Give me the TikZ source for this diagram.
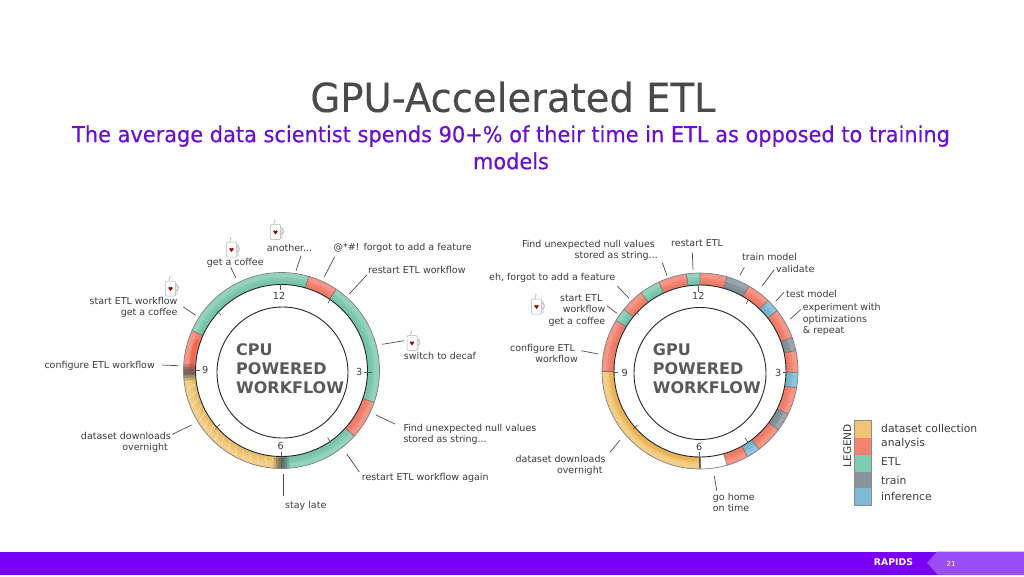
\documentclass[tikz,border=0pt]{standalone}
\usepackage{fontspec}
\setmainfont{DejaVu Sans}
\newfontfamily\titlefont[FakeStretch=0.964,FakeBold=0.25]{DejaVu Sans}
\newfontfamily\subfont[FakeStretch=0.95,FakeBold=0.25]{DejaVu Sans}
\usetikzlibrary{calc}
\definecolor{barp}{HTML}{7A00F5}
\definecolor{barl}{HTML}{9A4DF5}
\definecolor{subp}{HTML}{6A0FCF}
\definecolor{titleg}{HTML}{4A4A4A}
\definecolor{lblg}{HTML}{3C3C3C}
\definecolor{ctrg}{HTML}{5A5A5A}
\definecolor{cgreen}{HTML}{7FCBB2}
\definecolor{cred}{HTML}{F5836F}
\definecolor{cyel}{HTML}{F0C673}
\definecolor{cgrey}{HTML}{87949B}
\definecolor{cblue}{HTML}{7DBAD3}
\tikzset{
  x=1pt,y=-1pt,
  lbl/.style={inner sep=0pt,text=lblg,font=\fontsize{9.5}{11.2}\selectfont},
  num/.style={inner sep=0pt,text=lblg,font=\fontsize{9.7}{11}\selectfont},
  ctr/.style={inner sep=0pt,anchor=west,text=ctrg,align=left,font=\fontsize{16}{18.7}\selectfont\bfseries},
  leg/.style={inner sep=0pt,anchor=west,text=lblg,font=\fontsize{10.8}{12}\selectfont},
  leaderline/.style={draw=black!70,line width=.7pt},
  tickline/.style={draw=black!65,line width=.7pt},
  hoop/.style={draw=black!85,line width=.9pt},
  swatch/.style={draw=none,inner sep=0pt,minimum width=17.5pt,minimum height=16.9pt},
  mugpic/.pic={
    \fill[black!10] (4,-5) rectangle (7,7);
    \draw[black!25,line width=.8pt] (-1,-7) .. controls (-3,-9) and (1,-10) .. (-1,-12);
    \draw[black!30,line width=.5pt,fill=white,rounded corners=1pt] (-5,-7) rectangle (5,8);
    \draw[black!25,line width=.9pt] (5,-3) .. controls (9,-3) and (9,3) .. (5,3);
    \fill[red!60!black] (0,3) -- (-2.2,0) .. controls (-2.2,-1.6) and (-.4,-1.6) .. (0,-.4) .. controls (.4,-1.6) and (2.2,-1.6) .. (2.2,0) -- cycle;
  }
}
\newcommand\seg[3]{\fill[#3] (#1:98pt) arc[start angle=#1,end angle=#2,radius=98pt] -- (#2:86pt) arc[start angle=#2,end angle=#1,radius=86pt] -- cycle;
  \fill[white,opacity=.16] (#1:98pt) arc[start angle=#1,end angle=#2,radius=98pt] -- (#2:93pt) arc[start angle=#2,end angle=#1,radius=93pt] -- cycle;
  \fill[black,opacity=.04] (#1:90pt) arc[start angle=#1,end angle=#2,radius=90pt] -- (#2:86pt) arc[start angle=#2,end angle=#1,radius=86pt] -- cycle;
  \draw[black!55,line width=.5pt] (#1:98pt) -- (#1:86pt) (#2:98pt) -- (#2:86pt);}
\newcommand\smudge[2]{\foreach \w/\o in {5/.25,3.5/.3,2/.35}{
  \fill[black!70,opacity=\o] ({#1-\w}:98pt) arc[start angle={#1-\w},end angle={#1+\w},radius=98pt] -- ({#1+\w}:#2pt) arc[start angle={#1+\w},end angle={#1-\w},radius=#2pt] -- cycle;}}
\newcommand\leader[5]{\coordinate (#1-a) at (#2,#3); \coordinate (#1-b) at (#4,#5); \draw[leaderline] (#1-a) -- (#1-b);}
\newcommand\tickm[5]{\coordinate (#1-a) at (#2,#3); \coordinate (#1-b) at (#4,#5); \draw[tickline] (#1-a) -- (#1-b);}
\begin{document}
\begin{tikzpicture}
\useasboundingbox (0,0) rectangle (1024,576);
\fill[white] (0,0) rectangle (1024,576);
% title
\node[inner sep=0pt,text=titleg,font=\fontsize{40}{44}\selectfont\titlefont] (title) at (513,97) {GPU-Accelerated ETL};
\node[inner sep=0pt,text=subp,align=center,font=\fontsize{22}{27}\selectfont\subfont] (subtitle) at (511,147.5) {The average data scientist spends 90+\% of their time in ETL as opposed to training\\models};
% bottom bar
\fill[barp] (0,551.5) rectangle (1024,575);
\fill[barl] (937,551.5) -- (927,563) -- (938,575) -- (1024,575) -- (1024,551.5) -- cycle;
\node[inner sep=0pt,text=white,font=\fontsize{9.3}{10}\selectfont\bfseries] (rapids) at (893.5,562.5) {RAPIDS};
\node[inner sep=0pt,text=white,font=\fontsize{7}{8}\selectfont] (pageno) at (951,563.5) {21};
% left ring
\begin{scope}[shift={(281.5,370.5)}]
\seg{-19}{56}{cgreen}
\seg{56}{74}{cred}
\seg{74}{156}{cgreen}
\seg{156}{182}{cred}
\seg{182}{270}{cyel}
\seg{270}{318}{cgreen}
\seg{318}{341}{cred}
\foreach \a in {189,194,...,264}{\draw[white,opacity=.55,line width=.6pt] (\a:88pt) -- ({\a+2.5}:96pt);}
\fill[red!80!orange,opacity=.25] (160:88pt) arc[start angle=160,end angle=180,radius=88pt] -- (180:92pt) arc[start angle=180,end angle=160,radius=92pt] -- cycle;
\smudge{181}{87}
\smudge{270}{87}
\draw[black!50,line width=.7pt] (0,0) circle[radius=98pt];
\draw[hoop] (0,0) circle[radius=86pt];
\end{scope}
\draw[hoop] (282.5,372.5) circle[radius=65.5pt];
% right ring
\begin{scope}[shift={(700,371)}]
\seg{90}{98}{cgreen}
\seg{74}{90}{cred}
\seg{60}{74}{cgrey}
\seg{46}{60}{cred}
\seg{38}{46}{cblue}
\seg{20}{38}{cred}
\seg{12}{20}{cgrey}
\seg{-1}{12}{cred}
\seg{-10}{-1}{cblue}
\seg{-26}{-10}{cred}
\seg{-37}{-26}{cgrey}
\seg{-53}{-37}{cred}
\seg{-61}{-53}{cblue}
\seg{-74}{-61}{cred}
\seg{98}{115}{cred}
\seg{115}{127}{cgreen}
\seg{127}{141}{cred}
\seg{141}{149}{cgreen}
\seg{149}{180}{cred}
\seg{180}{270}{cyel}
\fill[orange,opacity=.18] (180:86pt) arc[start angle=180,end angle=270,radius=86pt] -- (270:91pt) arc[start angle=270,end angle=180,radius=91pt] -- cycle;
\draw[black!50,line width=.7pt] (0,0) circle[radius=98pt];
\draw[hoop] (0,0) circle[radius=86pt];
\end{scope}
\draw[hoop] (700,373.5) circle[radius=66pt];
% ring ticks
\tickm{lt12}{280}{284}{280}{290}
\tickm{lt3}{364}{372}{372}{372}
\tickm{lt9}{194}{370}{200}{370}
\tickm{lt6}{281}{451.7}{281}{468}
\tickm{lta}{217.3}{311.3}{221}{315}
\tickm{ltb}{330}{299.3}{328}{303.3}
\tickm{ltc}{327.7}{437.7}{330.7}{442.3}
\tickm{ltd}{220}{424.3}{215.7}{428.3}
\tickm{rt12}{698.3}{285}{698.3}{292}
\tickm{rt3}{782.7}{372}{787}{372}
\tickm{rt9}{612.7}{372}{618}{372}
\tickm{rt6}{699.3}{451.7}{699.3}{468}
\tickm{rta}{748}{300}{746}{304}
\tickm{rtb}{635.7}{311.7}{639}{315}
\tickm{rtc}{637.3}{425}{633.3}{429}
\tickm{rtd}{745}{437.7}{748.3}{442.7}
% clock numbers
\node[num] (l12) at (279,295.5) {12};
\node[num] (l3) at (359.3,372.3) {3};
\node[num] (l9) at (205.3,369.5) {9};
\node[num] (l6) at (280.7,446) {6};
\node[num] (r12) at (698.3,296) {12};
\node[num] (r3) at (778.3,372.7) {3};
\node[num] (r9) at (624.7,372.7) {9};
\node[num] (r6) at (699.3,446.7) {6};
% centre labels
\node[ctr] (cpu) at (236,368.7) {CPU\\POWERED\\WORKFLOW};
\node[ctr] (gpu) at (652.7,368.7) {GPU\\POWERED\\WORKFLOW};
% left labels
\node[lbl,anchor=west] (a1) at (206.7,262.7) {get a coffee};
\node[lbl,anchor=west] (a2) at (266.7,248) {another...};
\node[lbl,anchor=west] (a3) at (333.3,248) {@*\#! forgot to add a feature};
\node[lbl,anchor=west] (a4) at (368,269.7) {restart ETL workflow};
\node[lbl,anchor=east,align=right] (a5) at (177.7,307.6) {start ETL workflow\\get a coffee};
\node[lbl,anchor=west] (a6) at (44.3,366) {configure ETL workflow};
\node[lbl,anchor=west] (a7) at (403.7,356) {switch to decaf};
\node[lbl,anchor=west,align=left] (a8) at (403.3,434.3) {Find unexpected null values\\stored as string...};
\node[lbl,anchor=west] (a9) at (361.7,478.3) {restart ETL workflow again};
\node[lbl,anchor=east,align=right] (a10) at (171,442.3) {dataset downloads\\overnight\hspace*{3pt}};
\node[lbl,anchor=west] (a11) at (285,505.7) {stay late};
% right labels
\node[lbl,anchor=east,align=right] (b1) at (658,250) {Find unexpected null values\hspace*{3pt}\\stored as string...};
\node[lbl,anchor=west] (b2) at (489,278.3) {eh, forgot to add a feature};
\node[lbl,anchor=east,align=right] (b3) at (605.5,310.5) {start ETL\hspace*{3pt}\\workflow\\get a coffee};
\node[lbl,anchor=east,align=right] (b4) at (578,353.2) {configure ETL\hspace*{3pt}\\workflow};
\node[lbl,anchor=west] (b5) at (671,242.7) {restart ETL};
\node[lbl,anchor=west] (b6) at (742,256.7) {train model};
\node[lbl,anchor=west] (b7) at (776,269.3) {validate};
\node[lbl,anchor=west] (b8) at (786,294.3) {test model};
\node[lbl,anchor=west,align=left] (b9) at (802.7,319.5) {experiment with\\optimizations\\\& repeat};
\node[lbl,anchor=east,align=right] (b10) at (605.7,465.5) {dataset downloads\\overnight\hspace*{3pt}};
\node[lbl,anchor=west,align=left] (b11) at (712.7,502.7) {go home\\on time};
% leaders
\leader{la1}{230.7}{267.3}{235.7}{277.7}
\leader{la2}{301}{255.7}{296}{270.7}
\leader{la3}{334.7}{256.7}{324}{277.3}
\leader{la4}{366.7}{275}{349.3}{294}
\leader{la5}{183.3}{307}{195.7}{315.3}
\leader{la6}{162}{365}{178.3}{365.7}
\leader{la7}{404}{340.7}{382.3}{344.3}
\leader{la8}{376}{415}{395}{424}
\leader{la9}{346.7}{454}{359.3}{472}
\leader{la10}{172.3}{434.3}{191.7}{425}
\leader{la11}{283.3}{474}{283.3}{496}
\leader{lb1}{662.3}{262.7}{667}{275.7}
\leader{lb2}{617.3}{286}{629}{298.3}
\leader{lb3}{606.7}{305.7}{617}{313.3}
\leader{lb4}{581.3}{350.7}{598.3}{354}
\leader{lb5}{692.3}{252.3}{693}{269.7}
\leader{lb6}{744.3}{267.3}{740}{275}
\leader{lb7}{774}{270}{762}{286}
\leader{lb8}{784}{292.3}{775.7}{301.3}
\leader{lb9}{801}{309.3}{790.3}{319}
\leader{lb10}{620}{440}{610}{452.3}
\leader{lb11}{714.3}{476}{716.7}{490.7}
% mugs
\pic at (170.5,288) {mugpic};
\pic at (231.5,249) {mugpic};
\pic at (275.5,231.5) {mugpic};
\pic at (412,342.5) {mugpic};
\pic at (536.5,306) {mugpic};
% legend
\node[swatch,fill=cyel,anchor=north west] (s1) at (854,420.7) {};
\node[swatch,fill=cred,anchor=north west] (s2) at (854,437.6) {};
\node[swatch,fill=cgreen,anchor=north west] (s3) at (854,454.5) {};
\node[swatch,fill=cgrey,anchor=north west] (s4) at (854,471.3) {};
\node[swatch,fill=cblue,anchor=north west] (s5) at (854,488.1) {};
\draw[black!45,line width=.5pt] (854,420.7) rectangle (871.5,505);
\node[inner sep=0pt,text=lblg,rotate=90,font=\fontsize{10.5}{12}\selectfont] (legendt) at (847.3,445.7) {LEGEND};
\node[leg] (t1) at (881,428.3) {dataset collection};
\node[leg] (t2) at (881,444) {analysis};
\node[leg] (t3) at (881,462) {ETL};
\node[leg] (t4) at (881,480) {train};
\node[leg] (t5) at (881,496) {inference};
\end{tikzpicture}
\end{document}
